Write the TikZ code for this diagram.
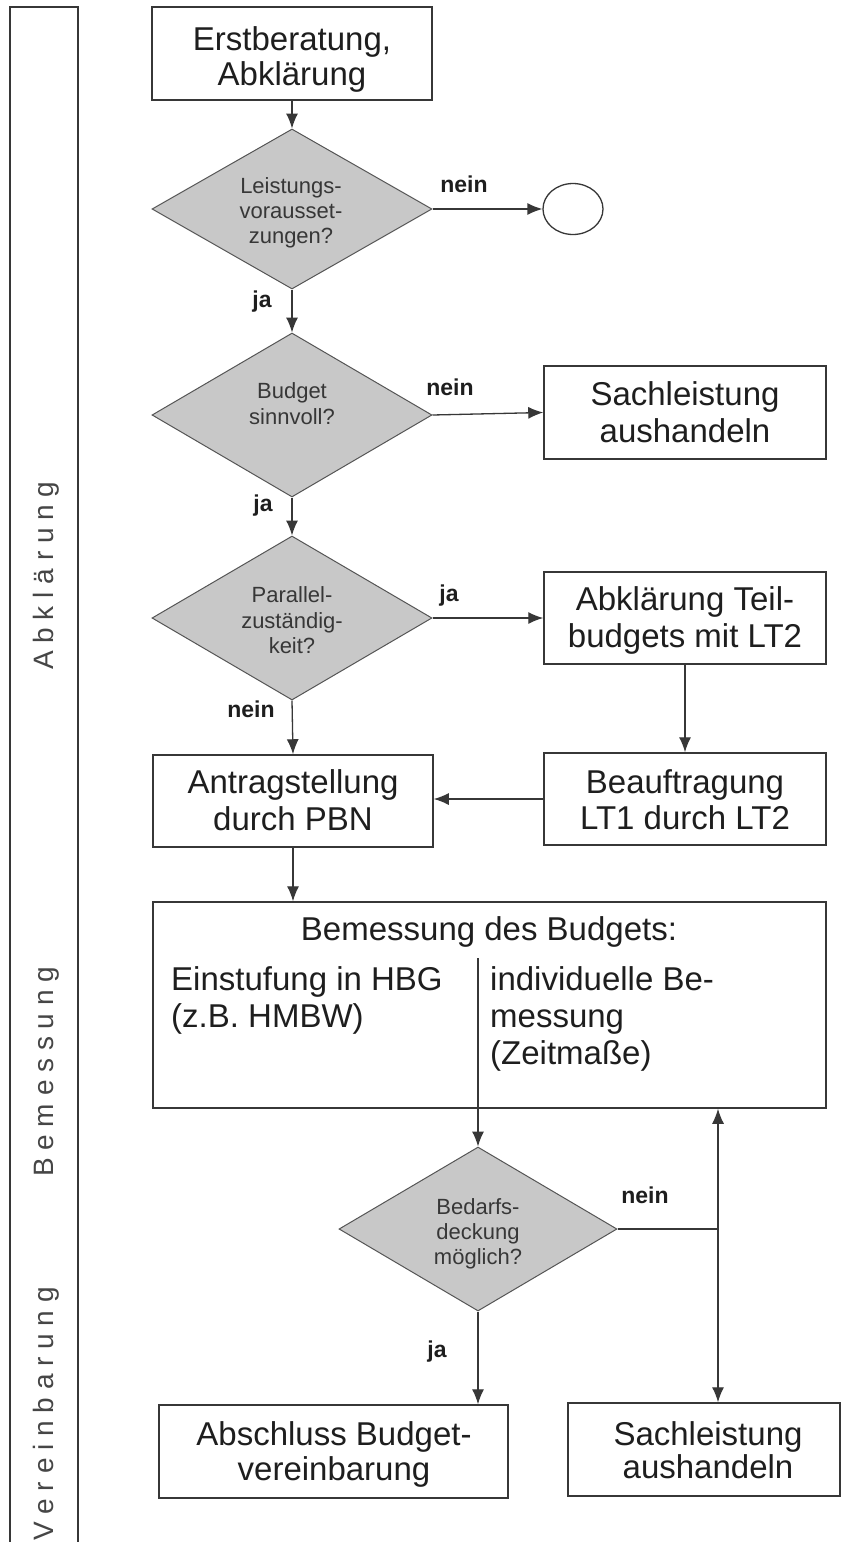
\documentclass[tikz,border=0pt]{standalone}
\usepackage{fontspec}
\setmainfont{Liberation Sans}
\usetikzlibrary{arrows.meta,shapes.geometric}
\definecolor{lncol}{RGB}{55,55,55}
\definecolor{dfill}{RGB}{200,200,200}
\definecolor{txtcol}{RGB}{30,30,30}
\definecolor{dtxt}{RGB}{55,55,55}
\definecolor{bandtxt}{RGB}{70,70,70}
\begin{document}
\begin{tikzpicture}[x=1pt,y=-1pt,
  boxn/.style={draw=lncol, line width=1.5pt, rectangle, inner sep=0pt, fill=white},
  dia/.style={diamond, draw=lncol!85, line width=1pt, fill=dfill, inner sep=0pt},
  bt/.style={font=\fontsize{33}{36}\selectfont, text=txtcol, inner sep=0pt, anchor=base},
  btl/.style={font=\fontsize{33}{36}\selectfont, text=txtcol, inner sep=0pt, anchor=base west},
  dt/.style={font=\fontsize{22}{24}\selectfont, text=dtxt, inner sep=0pt, anchor=base},
  lb/.style={font=\fontsize{23}{25}\selectfont\bfseries, text=txtcol, inner sep=0pt, anchor=base},
  bandlabel/.style={font=\fontsize{28}{30}\selectfont, text=bandtxt, inner sep=0pt, anchor=base west, rotate=90},
  arr/.style={draw=lncol, line width=1.3pt, -{Latex[length=15pt,width=12pt]}},
  conn/.style={draw=lncol, line width=1.3pt}
]
\fill[white] (0,0) rectangle (841,1542);
\useasboundingbox (0,0) rectangle (841,1542);

% left band
\coordinate (bl) at (10,1542);
\coordinate (tl) at (10,7);
\coordinate (tr) at (78,7);
\coordinate (br) at (78,1542);
\draw[lncol, line width=1.4pt] (bl) -- (tl) -- (tr) -- (br);
\node[bandlabel] (lab1) at (53,670) {A b k l ä r u n g};
\node[bandlabel] (lab2) at (53,1177) {B e m e s s u n g};
\node[bandlabel] (lab3) at (53,1541) {V e r e i n b a r u n g};

% boxes
\node[boxn, minimum width=280pt, minimum height=93pt] (b1) at (292,53.5) {};
\node[boxn, minimum width=282pt, minimum height=93pt] (b2) at (685,412.5) {};
\node[boxn, minimum width=282pt, minimum height=92pt] (b3) at (685,618) {};
\node[boxn, minimum width=280pt, minimum height=92pt] (b4) at (293,801) {};
\node[boxn, minimum width=282pt, minimum height=92pt] (b5) at (685,799) {};
\node[boxn, minimum width=673pt, minimum height=206pt] (b6) at (489.5,1005) {};
\node[boxn, minimum width=349pt, minimum height=93pt] (b8) at (333.5,1451.5) {};
\node[boxn, minimum width=272pt, minimum height=93pt] (b7) at (704,1449.5) {};

% decisions
\node[dia, minimum width=280pt, minimum height=160pt] (d1) at (292,209) {};
\node[dia, minimum width=280pt, minimum height=164pt] (d2) at (292,415) {};
\node[dia, minimum width=280pt, minimum height=164pt] (d3) at (292,618) {};
\node[dia, minimum width=278pt, minimum height=164pt] (d4) at (478,1229) {};
\node[ellipse, draw=lncol, line width=1.3pt, inner sep=0pt, minimum width=60pt, minimum height=51pt] (c1) at (573,209) {};

% box texts
\node[bt] (t1a) at (292,50) {Erstberatung,};
\node[bt] (t1b) at (292,85) {Abklärung};
\node[bt] (t2a) at (685,405) {Sachleistung};
\node[bt] (t2b) at (685,442) {aushandeln};
\node[bt] (t3a) at (685,610) {Abklärung Teil-};
\node[bt] (t3b) at (685,647) {budgets mit LT2};
\node[bt] (t4a) at (293,793) {Antragstellung};
\node[bt] (t4b) at (293,830) {durch PBN};
\node[bt] (t5a) at (685,793) {Beauftragung};
\node[bt] (t5b) at (685,829) {LT1 durch LT2};
\node[bt] (t6a) at (489,940) {Bemessung des Budgets:};
\node[btl] (t6b) at (171,990) {Einstufung in HBG};
\node[btl] (t6c) at (171,1027) {(z.B. HMBW)};
\node[btl] (t6d) at (490,990) {individuelle Be-};
\node[btl] (t6e) at (490,1027) {messung};
\node[btl] (t6f) at (490,1064) {(Zeitmaße)};
\node[bt] (t8a) at (334,1445) {Abschluss Budget-};
\node[bt] (t8b) at (334,1480) {vereinbarung};
\node[bt] (t7a) at (708,1445) {Sachleistung};
\node[bt] (t7b) at (708,1478) {aushandeln};

% decision texts
\node[dt] (e1a) at (291,193) {Leistungs-};
\node[dt] (e1b) at (291,218) {vorausset-};
\node[dt] (e1c) at (291,243) {zungen?};
\node[dt] (e2a) at (292,398) {Budget};
\node[dt] (e2b) at (292,424) {sinnvoll?};
\node[dt] (e3a) at (292,602) {Parallel-};
\node[dt] (e3b) at (292,628) {zuständig-};
\node[dt] (e3c) at (292,653) {keit?};
\node[dt] (e4a) at (478,1214) {Bedarfs-};
\node[dt] (e4b) at (478,1239) {deckung};
\node[dt] (e4c) at (478,1264) {möglich?};

% branch labels
\node[lb] (n1) at (464,192) {nein};
\node[lb] (j1) at (262,307) {ja};
\node[lb] (n2) at (450,395) {nein};
\node[lb] (j2) at (263,511) {ja};
\node[lb] (j3) at (449,601) {ja};
\node[lb] (n3) at (251,717) {nein};
\node[lb] (n4) at (645,1203) {nein};
\node[lb] (j4) at (437,1357) {ja};

% connectors
\draw[arr] (b1.south) -- (d1.north);
\draw[arr] (d1.east) -- (c1.west);
\draw[arr] (d1.south) -- (d2.north);
\draw[arr] (d2.east) -- (b2.west);
\draw[arr] (d2.south) -- (d3.north);
\draw[arr] (d3.east) -- (b3.west);
\draw[arr] (d3.south) -- (b4.north);
\draw[arr] (b3.south) -- (b5.north);
\draw[arr] (b5.west) -- (b4.east |- b5.west);
\draw[arr] (b4.south) -- (b4.south |- b6.north);
\coordinate (dv) at (478,958);
\draw[arr] (dv) -- (d4.north);
\coordinate (jn) at (718,1229);
\draw[conn] (d4.east) -- (jn);
\draw[arr] (jn) -- (jn |- b6.south);
\draw[arr] (jn) -- (jn |- b7.north);
\draw[arr] (d4.south) -- (d4.south |- b8.north);
\end{tikzpicture}
\end{document}
